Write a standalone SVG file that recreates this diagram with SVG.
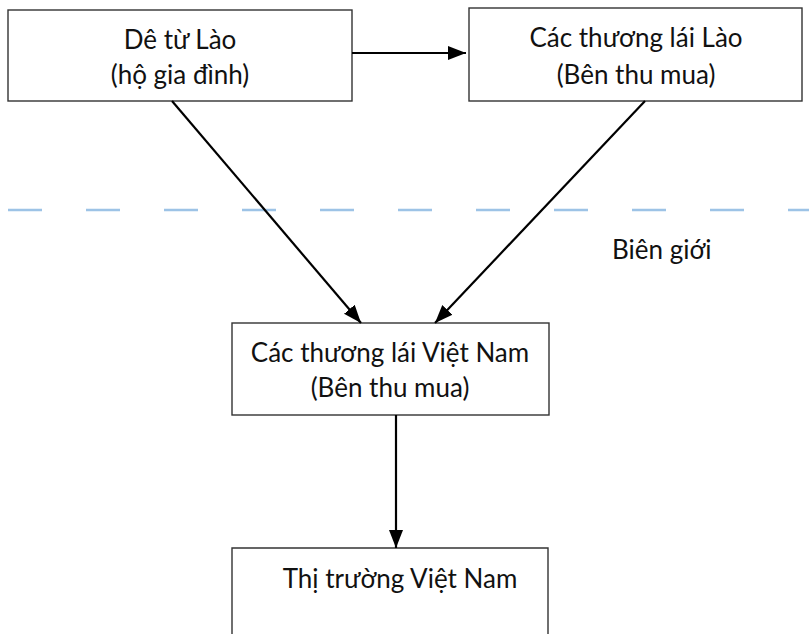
<svg xmlns="http://www.w3.org/2000/svg" width="809" height="634" viewBox="0 0 809 634">
  <defs>
    <marker id="arrow" markerUnits="userSpaceOnUse" markerWidth="20" markerHeight="16" refX="18" refY="8" orient="auto">
      <path d="M0,1 L18,8 L0,15 Z" fill="#000"/>
    </marker>
  </defs>
  <style>
    .box { fill: #fff; stroke: #333; stroke-width: 1.4; }
    .label { font-family: Lato, "Open Sans", sans-serif; font-size: 26px; fill: #111; text-anchor: middle; }
    .edge { stroke: #000; stroke-width: 2.2; fill: none; marker-end: url(#arrow); }
    .border { stroke: #9dc3e6; stroke-width: 2.5; stroke-dasharray: 34 44; fill: none; }
  </style>
  <rect width="809" height="634" fill="#fff"/>

  <!-- national border -->
  <line class="border" x1="8" y1="210" x2="809" y2="210"/>
  <text class="label" x="612" y="259" style="text-anchor:start">Biên giới</text>

  <g id="node-goat">
    <rect class="box" x="8" y="10" width="344" height="91"/>
    <text class="label" x="180" y="49">Dê từ Lào</text>
    <text class="label" x="180" y="84">(hộ gia đình)</text>
  </g>

  <g id="node-lao-traders">
    <rect class="box" x="469" y="8" width="333" height="93"/>
    <text class="label" x="636" y="47">Các thương lái Lào</text>
    <text class="label" x="636" y="84">(Bên thu mua)</text>
  </g>

  <g id="node-vn-traders">
    <rect class="box" x="232" y="323" width="317" height="92"/>
    <text class="label" x="390" y="362">Các thương lái Việt Nam</text>
    <text class="label" x="390" y="397">(Bên thu mua)</text>
  </g>

  <g id="node-vn-market">
    <path class="box" d="M232,640 L232,548 L548,548 L548,640" />
    <text class="label" x="400" y="588">Thị trường Việt Nam</text>
  </g>

  <g id="connectors">
    <line class="edge" x1="352" y1="53" x2="466" y2="53"/>
    <line class="edge" x1="172" y1="101" x2="361" y2="323"/>
    <line class="edge" x1="645" y1="101" x2="435" y2="323"/>
    <line class="edge" x1="396" y1="415" x2="396" y2="548"/>
  </g>
</svg>
